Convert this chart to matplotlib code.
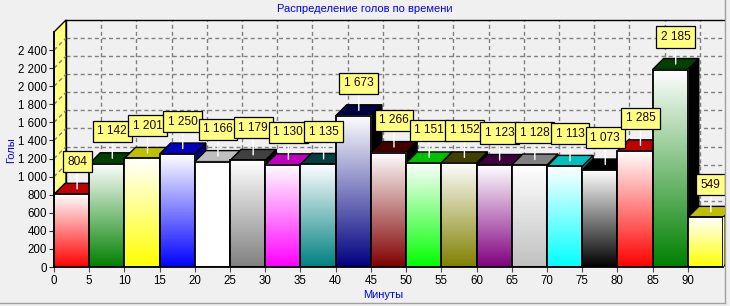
import matplotlib
matplotlib.use('Agg')
import matplotlib.pyplot as plt
import numpy as np
from matplotlib.patches import Polygon, Rectangle
from matplotlib.lines import Line2D
from matplotlib.colors import to_rgb

plt.rcParams['font.family'] = ['Liberation Sans', 'DejaVu Sans']
plt.rcParams['font.size'] = 8

# Данные
minutes = list(range(0, 95, 5))
goals = [804, 1142, 1201, 1250, 1166, 1179, 1130, 1135, 1673, 1266,
         1151, 1152, 1123, 1128, 1113, 1073, 1285, 2185, 549]
colors = ['#ff0000', '#008000', '#ffff00', '#0000ff', '#ffffff', '#808080',
          '#ff00ff', '#008080', '#000080', '#800000', '#00ff00', '#808000',
          '#800080', '#c0c0c0', '#00ffff', '#000000', '#ff0000', '#008000',
          '#ffff00']
x_ticks = list(range(0, 95, 5))
y_ticks = list(range(0, 2600, 200))
title = 'Распределение голов по времени'
xlabel = 'Минуты'
ylabel = 'Голы'

W, H = 730, 306
wall = 12    # глубина стенок, px
depth = 11   # глубина столбиков, px
bw = 5
bg = '#f0f0f0'
grid_ls = (0, (2.9, 2.2))


def fmt(v):
    return f'{int(v):,}'.replace(',', ' ')


def darker(c, q):
    r = np.array(to_rgb(c)) - q / 255
    return tuple(np.clip(r, 0, 1))


fig = plt.figure(figsize=(W / 100, H / 100), dpi=100, facecolor=bg)

# задняя стенка (сетка)
bx = fig.add_axes([(54 + wall) / W, (39 + wall) / H, 669 / W, 235 / H])
ax = fig.add_axes([54 / W, 39 / H, 669 / W, 235 / H])
for a in (ax, bx):
    a.set_xlim(0, 95)
    a.set_ylim(0, 2600)
    a.set_autoscale_on(False)

bx.set_facecolor(bg)
bx.set_xticks(x_ticks[1:])
bx.set_yticks(y_ticks[1:])
bx.tick_params(length=0, labelbottom=False, labelleft=False)
bx.grid(True, color='#808080', linestyle=grid_ls, linewidth=1)
for s in ('right', 'bottom'):
    bx.spines[s].set_visible(False)
for s in ('top', 'left'):
    bx.spines[s].set_color('black')
    bx.spines[s].set_linewidth(1)

ax.set_facecolor('none')
for s in ('top', 'right'):
    ax.spines[s].set_visible(False)
for s in ('left', 'bottom'):
    ax.spines[s].set_linewidth(1.3)
    ax.spines[s].set_zorder(60)

# смещения глубины в единицах данных
inv = ax.transData.inverted()
o = ax.transData.transform((0, 0))
wx, wy = inv.transform(o + wall)
dx, dy = inv.transform(o + depth)
ymax = ax.get_ylim()[1]

# левая стенка
ax.add_patch(Polygon([(0, 0), (0, ymax), (wx, ymax + wy), (wx, wy)],
                     closed=True, fc='#ffff80', ec='black', lw=1,
                     clip_on=False, zorder=1))
for y in y_ticks[1:]:
    ax.plot([0, wx], [y, y + wy], color='#808080', linestyle=grid_ls,
            lw=1, clip_on=False, zorder=2)

# столбики
bars = ax.bar(minutes, goals, width=bw, align='edge', fill=False,
              edgecolor='black', linewidth=1.3)
t = np.linspace(0, 1, 256)[:, None, None]
for i, (x0, h, c) in enumerate(zip(minutes, goals, colors)):
    z = 5 + i * 3
    x1 = x0 + bw
    ax.add_patch(Polygon([(x1, 0), (x1, h), (x1 + dx, h + dy), (x1 + dx, dy)],
                         closed=True, fc=darker(c, 128), ec='black', lw=1,
                         clip_on=False, zorder=z))
    ax.add_patch(Polygon([(x0, h), (x1, h), (x1 + dx, h + dy), (x0 + dx, h + dy)],
                         closed=True, fc=darker(c, 64), ec='black', lw=1,
                         clip_on=False, zorder=z))
    grad = (1 - t) * np.ones(3) + t * np.array(to_rgb(c))
    ax.imshow(grad, extent=(x0, x1, 0, h), aspect='auto',
              interpolation='bilinear', zorder=z + 1)
    bars[i].set_zorder(z + 2)

# подписи значений
for i, (x0, h) in enumerate(zip(minutes, goals)):
    ax.annotate(fmt(h), xy=(x0 + bw / 2 + dx / 2, h + dy / 2),
                xytext=(0, 27), textcoords='offset pixels',
                ha='center', va='center', color='#200010', fontsize=8.6,
                bbox=dict(boxstyle='square,pad=0.38', fc='#ffff80',
                          ec='black', lw=0.9),
                arrowprops=dict(arrowstyle='-', color='white', lw=1,
                                shrinkA=0, shrinkB=0),
                annotation_clip=False, zorder=100 + i)

ax.set_xlim(0, 95)
ax.set_ylim(0, 2600)
ax.set_xticks(x_ticks)
ax.set_yticks(y_ticks)
ax.set_yticklabels([fmt(v) for v in y_ticks])
ax.tick_params(axis='x', length=3.6, color='#505050', pad=2, labelsize=8.3)
ax.tick_params(axis='y', length=3.6, color='#303030', pad=1.5, labelsize=8.3)

fig.text(0.5, 1 - 9 / H, title, ha='center', va='center', color='blue',
         fontsize=8)
fig.text(383 / W, 1 - 295 / H, xlabel, ha='center', va='center',
         color='blue', fontsize=8)
fig.text(11 / W, 1 - 150 / H, ylabel, ha='center', va='center',
         color='blue', fontsize=8, rotation=90)

# рамка панели
fig.add_artist(Rectangle((725.5 / W, 0), 1, 1, transform=fig.transFigure,
                         fc=bg, ec='none', zorder=10))
fig.add_artist(Line2D([725 / W, 725 / W], [3 / H, 1], color='#a0a0a0',
                      lw=1, zorder=11))
fig.add_artist(Line2D([0, 725 / W], [3 / H, 3 / H], color='#a0a0a0',
                      lw=1, zorder=11))

fig.savefig('out.png', dpi=100, facecolor=bg)
